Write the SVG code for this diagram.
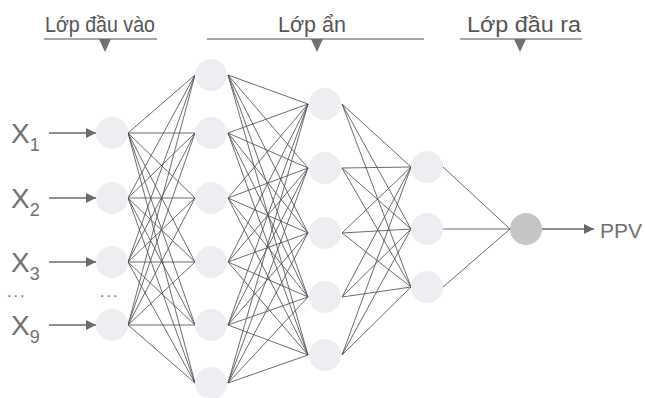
<svg xmlns="http://www.w3.org/2000/svg" width="645" height="398" viewBox="0 0 645 398">
<style>
.hdr{font-family:"Liberation Sans",Arial,sans-serif;font-size:22px;fill:#555}
.lbl{font-family:"Liberation Sans",Arial,sans-serif;fill:#707070}
.rule{stroke:#8a8a8a;stroke-width:1.5}
.tri{fill:#707070}
.node{fill:#ededf2}
.out{fill:#c6c6c8}
.c line{stroke:#505050;stroke-width:0.85}
.arr{stroke:#6a6a6a;stroke-width:1.3;fill:none}
</style>
<defs>
<marker id="ah" viewBox="0 0 10 10" refX="10" refY="5" markerWidth="14" markerHeight="10" markerUnits="userSpaceOnUse" orient="auto">
<path d="M0,0 L10,5 L0,10 Z" fill="#6a6a6a"/>
</marker>
</defs>
<rect width="645" height="398" fill="#ffffff"/>
<g id="headers">
<text class="hdr" x="45" y="32" textLength="110" lengthAdjust="spacingAndGlyphs">Lớp đầu vào</text>
<line class="rule" x1="44" y1="39" x2="157" y2="39"/>
<polygon class="tri" points="99,39 111,39 105,52"/>
<text class="hdr" x="278" y="32" textLength="68" lengthAdjust="spacingAndGlyphs">Lớp ẩn</text>
<line class="rule" x1="207" y1="39" x2="424" y2="39"/>
<polygon class="tri" points="311,39 323,39 317,52"/>
<text class="hdr" x="467" y="32" textLength="114" lengthAdjust="spacingAndGlyphs">Lớp đầu ra</text>
<line class="rule" x1="460" y1="39" x2="582" y2="39"/>
<polygon class="tri" points="514,39 526,39 520,52"/>
</g>
<g id="connectors" class="c">
<line x1="128" y1="133" x2="195" y2="75"/><line x1="128" y1="133" x2="195" y2="133"/><line x1="128" y1="133" x2="195" y2="198"/><line x1="128" y1="133" x2="195" y2="262"/><line x1="128" y1="133" x2="195" y2="325"/><line x1="128" y1="133" x2="195" y2="383"/>
<line x1="128" y1="198" x2="195" y2="75"/><line x1="128" y1="198" x2="195" y2="133"/><line x1="128" y1="198" x2="195" y2="198"/><line x1="128" y1="198" x2="195" y2="262"/><line x1="128" y1="198" x2="195" y2="325"/><line x1="128" y1="198" x2="195" y2="383"/>
<line x1="128" y1="262" x2="195" y2="75"/><line x1="128" y1="262" x2="195" y2="133"/><line x1="128" y1="262" x2="195" y2="198"/><line x1="128" y1="262" x2="195" y2="262"/><line x1="128" y1="262" x2="195" y2="325"/><line x1="128" y1="262" x2="195" y2="383"/>
<line x1="128" y1="325" x2="195" y2="75"/><line x1="128" y1="325" x2="195" y2="133"/><line x1="128" y1="325" x2="195" y2="198"/><line x1="128" y1="325" x2="195" y2="262"/><line x1="128" y1="325" x2="195" y2="325"/><line x1="128" y1="325" x2="195" y2="383"/>
<line x1="228" y1="75" x2="308" y2="104"/><line x1="228" y1="75" x2="308" y2="168"/><line x1="228" y1="75" x2="308" y2="233"/><line x1="228" y1="75" x2="308" y2="297"/><line x1="228" y1="75" x2="308" y2="355"/>
<line x1="228" y1="133" x2="308" y2="104"/><line x1="228" y1="133" x2="308" y2="168"/><line x1="228" y1="133" x2="308" y2="233"/><line x1="228" y1="133" x2="308" y2="297"/><line x1="228" y1="133" x2="308" y2="355"/>
<line x1="228" y1="198" x2="308" y2="104"/><line x1="228" y1="198" x2="308" y2="168"/><line x1="228" y1="198" x2="308" y2="233"/><line x1="228" y1="198" x2="308" y2="297"/><line x1="228" y1="198" x2="308" y2="355"/>
<line x1="228" y1="262" x2="308" y2="104"/><line x1="228" y1="262" x2="308" y2="168"/><line x1="228" y1="262" x2="308" y2="233"/><line x1="228" y1="262" x2="308" y2="297"/><line x1="228" y1="262" x2="308" y2="355"/>
<line x1="228" y1="325" x2="308" y2="104"/><line x1="228" y1="325" x2="308" y2="168"/><line x1="228" y1="325" x2="308" y2="233"/><line x1="228" y1="325" x2="308" y2="297"/><line x1="228" y1="325" x2="308" y2="355"/>
<line x1="228" y1="383" x2="308" y2="104"/><line x1="228" y1="383" x2="308" y2="168"/><line x1="228" y1="383" x2="308" y2="233"/><line x1="228" y1="383" x2="308" y2="297"/><line x1="228" y1="383" x2="308" y2="355"/>
<line x1="342" y1="104" x2="411" y2="167"/><line x1="342" y1="104" x2="411" y2="229"/><line x1="342" y1="104" x2="411" y2="287"/>
<line x1="342" y1="168" x2="411" y2="167"/><line x1="342" y1="168" x2="411" y2="229"/><line x1="342" y1="168" x2="411" y2="287"/>
<line x1="342" y1="233" x2="411" y2="167"/><line x1="342" y1="233" x2="411" y2="229"/><line x1="342" y1="233" x2="411" y2="287"/>
<line x1="342" y1="297" x2="411" y2="167"/><line x1="342" y1="297" x2="411" y2="229"/><line x1="342" y1="297" x2="411" y2="287"/>
<line x1="342" y1="355" x2="411" y2="167"/><line x1="342" y1="355" x2="411" y2="229"/><line x1="342" y1="355" x2="411" y2="287"/>
<line x1="443" y1="167" x2="510" y2="229"/><line x1="443" y1="229" x2="510" y2="229"/><line x1="443" y1="287" x2="510" y2="229"/>
</g>
<g id="arrows">
<line class="arr" x1="49" y1="133" x2="96" y2="133" marker-end="url(#ah)"/>
<line class="arr" x1="49" y1="198" x2="96" y2="198" marker-end="url(#ah)"/>
<line class="arr" x1="49" y1="262" x2="96" y2="262" marker-end="url(#ah)"/>
<line class="arr" x1="49" y1="325" x2="96" y2="325" marker-end="url(#ah)"/>
<line class="arr" x1="542" y1="229" x2="594" y2="229" marker-end="url(#ah)"/>
</g>
<g id="input-layer">
<g id="in1"><circle class="node" cx="112" cy="133" r="16"/></g>
<g id="in2"><circle class="node" cx="112" cy="198" r="16"/></g>
<g id="in3"><circle class="node" cx="112" cy="262" r="16"/></g>
<g id="in9"><circle class="node" cx="112" cy="325" r="16"/></g>
</g>
<g id="hidden1">
<g id="h1a"><circle class="node" cx="211" cy="75" r="16"/></g>
<g id="h1b"><circle class="node" cx="211" cy="133" r="16"/></g>
<g id="h1c"><circle class="node" cx="211" cy="198" r="16"/></g>
<g id="h1d"><circle class="node" cx="211" cy="262" r="16"/></g>
<g id="h1e"><circle class="node" cx="211" cy="325" r="16"/></g>
<g id="h1f"><circle class="node" cx="211" cy="383" r="16"/></g>
</g>
<g id="hidden2">
<g id="h2a"><circle class="node" cx="325" cy="104" r="16"/></g>
<g id="h2b"><circle class="node" cx="325" cy="168" r="16"/></g>
<g id="h2c"><circle class="node" cx="325" cy="233" r="16"/></g>
<g id="h2d"><circle class="node" cx="325" cy="297" r="16"/></g>
<g id="h2e"><circle class="node" cx="325" cy="355" r="16"/></g>
</g>
<g id="hidden3">
<g id="h3a"><circle class="node" cx="427" cy="167" r="16"/></g>
<g id="h3b"><circle class="node" cx="427" cy="229" r="16"/></g>
<g id="h3c"><circle class="node" cx="427" cy="287" r="16"/></g>
</g>
<g id="output"><circle class="out" cx="526" cy="229" r="16"/></g>
<g id="labels">
<text class="lbl" x="11" y="143" font-size="28">X<tspan font-size="18" dy="8">1</tspan></text>
<text class="lbl" x="11" y="208" font-size="28">X<tspan font-size="18" dy="8">2</tspan></text>
<text class="lbl" x="11" y="272" font-size="28">X<tspan font-size="18" dy="8">3</tspan></text>
<text class="lbl" x="11" y="335" font-size="28">X<tspan font-size="18" dy="8">9</tspan></text>
<text class="lbl" x="7" y="297" font-size="16" letter-spacing="2">...</text>
<text class="lbl" x="100" y="297" font-size="16" letter-spacing="2">...</text>
<text class="lbl" x="600" y="238" font-size="21">PPV</text>
</g>
</svg>
